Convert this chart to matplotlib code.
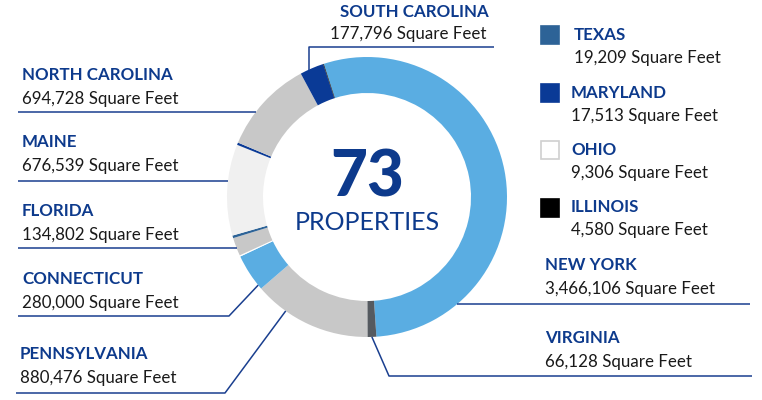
import numpy as np
import matplotlib.pyplot as plt

# données : surface par état (ordre des segments, sens horaire depuis le haut)
states = ['NEW YORK', 'VIRGINIA', 'PENNSYLVANIA', 'CONNECTICUT', 'OHIO', 'FLORIDA',
          'TEXAS', 'MAINE', 'MARYLAND', 'NORTH CAROLINA', 'SOUTH CAROLINA', 'ILLINOIS']
sqft = [3466106, 66128, 880476, 280000, 9306, 134802,
        19209, 676539, 17513, 694728, 177796, 4580]
colors = ['#5aade2', '#555a60', '#c8c8c8', '#5aade2', '#ffffff', '#c8c8c8',
          '#2d6397', '#f0f0f0', '#0a3a96', '#c8c8c8', '#0a3a96', '#000000']
total_properties = 73

legend_states = ['TEXAS', 'MARYLAND', 'OHIO', 'ILLINOIS']

BLUE = '#0d3a8c'
LINE = '#1a3f8f'
FONT = 'Lato'
FS = 12.2

W, H = 762, 400
CX, CY, R, RW = 367, 197, 140, 36


def Y(p):
    # coordonnées pixel (origine en haut) -> coordonnées axes
    return H - p


def fmt(state):
    return f"{sqft[states.index(state)]:,} Square Feet"


fig = plt.figure(figsize=(W / 100, H / 100), dpi=100)
ax = fig.add_axes([0, 0, 1, 1])
ax.set_xlim(0, W)
ax.set_ylim(0, H)
ax.set_aspect('equal')
ax.axis('off')

ax.pie(sqft, colors=colors, startangle=108, counterclock=False,
       center=(CX, Y(CY)), radius=R,
       wedgeprops=dict(width=RW, linewidth=0))
ax.set_xlim(0, W)
ax.set_ylim(0, H)

ax.text(CX, Y(178), str(total_properties), ha='center', va='center',
        fontsize=46, fontweight='black', color=BLUE, family=FONT)
ax.text(CX, Y(223), 'PROPERTIES', ha='center', va='center',
        fontsize=18, color=BLUE, family=FONT)


def on_circle(deg):
    a = np.radians(deg)
    return CX + R * np.sin(a), CY - R * np.cos(a)


def circle_x(py, side):
    return CX + side * np.sqrt(R ** 2 - (CY - py) ** 2)


def label(state, x, ty):
    ax.text(x, Y(ty), state, ha='left', va='center', fontsize=FS,
            fontweight='bold', color=BLUE, family=FONT)
    ax.text(x, Y(ty + 24), fmt(state), ha='left', va='center', fontsize=FS,
            color='#1a1a1a', family=FONT)


def line(xs, ys):
    ax.plot(xs, [Y(v) for v in ys], color=LINE, lw=1.1, solid_capstyle='butt')


# étiquettes gauche (ligne horizontale jusqu'au cercle)
for st, ty, ly in [('NORTH CAROLINA', 75, 112), ('MAINE', 142, 181), ('FLORIDA', 211, 248)]:
    label(st, 22, ty)
    line([18, circle_x(ly, -1)], [ly, ly])

# étiquettes gauche avec ligne oblique
for st, ty, ly, x0, x1, deg in [('CONNECTICUT', 279, 316, 18, 229, 231),
                                 ('PENNSYLVANIA', 354, 393, 16, 225, 215.5)]:
    label(st, 22 if st != 'PENNSYLVANIA' else 20, ty)
    px, py = on_circle(deg)
    line([x0, x1, px], [ly, ly, py])

# SOUTH CAROLINA (en haut)
ax.text(340, Y(12), 'SOUTH CAROLINA', ha='left', va='center', fontsize=FS,
        fontweight='bold', color=BLUE, family=FONT)
ax.text(330, Y(34), fmt('SOUTH CAROLINA'), ha='left', va='center', fontsize=FS,
        color='#1a1a1a', family=FONT)
sx = 309
line([494, sx, sx], [47, 47, CY - np.sqrt(R ** 2 - (CX - sx) ** 2)])

# NEW YORK
label('NEW YORK', 545, 265)
line([circle_x(304, 1), 750], [304, 304])

# VIRGINIA
label('VIRGINIA', 545, 338)
px, py = on_circle(178)
line([px, 389, 752], [py, 376, 376])

# légende à droite
for i, st in enumerate(legend_states):
    top = 26 + i * 57.5
    c = colors[states.index(st)]
    ec = '#d0d0d0' if st == 'OHIO' else c
    ax.add_patch(plt.Rectangle((541, Y(top + 18)), 18, 18, facecolor=c,
                               edgecolor=ec, lw=1.2))
    tx = 574 if i == 0 else 571
    ax.text(tx, Y(top + 9), st, ha='left', va='center', fontsize=FS,
            fontweight='bold', color=BLUE, family=FONT)
    ax.text(tx, Y(top + 32), fmt(st), ha='left', va='center', fontsize=FS,
            color='#1a1a1a', family=FONT)

fig.savefig('out.png', dpi=100)
